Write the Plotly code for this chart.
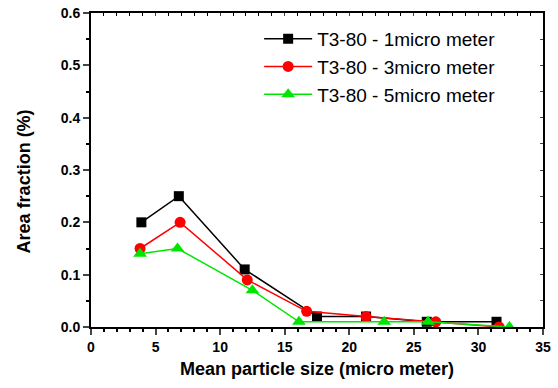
import plotly.graph_objects as go

names = ["T3-80 - 1micro meter", "T3-80 - 3micro meter", "T3-80 - 5micro meter"]
x1 = [3.9, 6.8, 11.9, 17.5, 21.3, 26.0, 31.4]
y1 = [0.20, 0.25, 0.11, 0.02, 0.02, 0.01, 0.01]
x2 = [3.8, 6.9, 12.1, 16.7, 21.3, 26.7, 31.6]
y2 = [0.15, 0.20, 0.09, 0.03, 0.02, 0.01, 0.0]
x3 = [3.8, 6.7, 12.5, 16.1, 22.7, 26.1, 32.4]
y3 = [0.14, 0.15, 0.07, 0.01, 0.01, 0.01, 0.0]
x_title = "Mean particle size (micro meter)"
y_title = "Area fraction (%)"

colors = ["#000000", "#ff0000", "#00e600"]
symbols = ["square", "circle", "triangle-up"]
sizes = [10, 11, 12]

fig = go.Figure()
for xs, ys, n, c, s, sz in zip([x1, x2, x3], [y1, y2, y3], names, colors, symbols, sizes):
    fig.add_trace(go.Scatter(x=xs, y=ys, name=n, mode="lines+markers",
                             line=dict(color=c, width=1.5),
                             marker=dict(symbol=s, size=sz, color=c)))

# invisible trace on mirror axes
fig.add_trace(go.Scatter(x=[0], y=[0], xaxis="x2", yaxis="y2", showlegend=False,
                         mode="markers", marker=dict(opacity=0), hoverinfo="skip"))

fig.update_layout(
    width=558, height=388,
    margin=dict(l=91, r=15, t=13, b=61, autoexpand=False),
    paper_bgcolor="white", plot_bgcolor="white",
    font=dict(family="Liberation Sans, Arial", color="black"),
    xaxis=dict(range=[0, 35], tick0=0, dtick=5, ticks="outside", ticklen=6, tickwidth=1.5,
               automargin=False,
               showline=True, linewidth=2, linecolor="black", showgrid=False, zeroline=False,
               tickfont=dict(family="Liberation Sans, Arial", size=14, color="black", weight="bold"),
               minor=dict(dtick=1, ticks="outside", ticklen=3, tickwidth=1.5, tickcolor="black", showgrid=False),
               title=dict(text="<b>" + x_title + "</b>", font=dict(size=18), standoff=9)),
    yaxis=dict(range=[0, 0.6], tick0=0, dtick=0.1, ticks="outside", ticklen=6, tickwidth=1.5,
               tickformat=".1f", automargin=False,
               showline=True, linewidth=2, linecolor="black", showgrid=False, zeroline=False,
               tickfont=dict(family="Liberation Sans, Arial", size=14, color="black", weight="bold"),
               minor=dict(dtick=0.05, ticks="outside", ticklen=3, tickwidth=1.5, tickcolor="black", showgrid=False)),
    xaxis2=dict(range=[0, 35], overlaying="x", side="top", anchor="y", showticklabels=False,
                automargin=False,
                tick0=0, dtick=5, ticks="inside", ticklen=3, tickwidth=1,
                showline=True, linewidth=2, linecolor="black", showgrid=False, zeroline=False,
                minor=dict(dtick=1, ticks="inside", ticklen=3, tickwidth=1, tickcolor="black", showgrid=False)),
    yaxis2=dict(range=[0, 0.6], overlaying="y", side="right", anchor="x", showticklabels=False,
                automargin=False,
                tick0=0, dtick=0.05, ticks="inside", ticklen=3, tickwidth=1,
                showline=True, linewidth=2, linecolor="black", showgrid=False, zeroline=False),
    legend=dict(x=0.372, y=0.978, xanchor="left", yanchor="top", bgcolor="rgba(0,0,0,0)",
                font=dict(family="Liberation Sans, Arial", size=19, color="black"),
                tracegroupgap=0, itemwidth=48),
    showlegend=True,
    annotations=[dict(text="<b>" + y_title + "</b>", textangle=-90, xref="paper", yref="paper",
                      x=-0.148, y=0.464, xanchor="center", yanchor="middle", showarrow=False,
                      font=dict(family="Liberation Sans, Arial", size=18, color="black"))],
)

fig.write_html("out.html", config={"displayModeBar": False})

# remove the default page margin so the figure sits at the window's top-left
with open("out.html", "r", encoding="utf-8") as f:
    html = f.read()
html = html.replace("<body>", '<body style="margin:0;padding:0;overflow:hidden;">', 1)
with open("out.html", "w", encoding="utf-8") as f:
    f.write(html)
